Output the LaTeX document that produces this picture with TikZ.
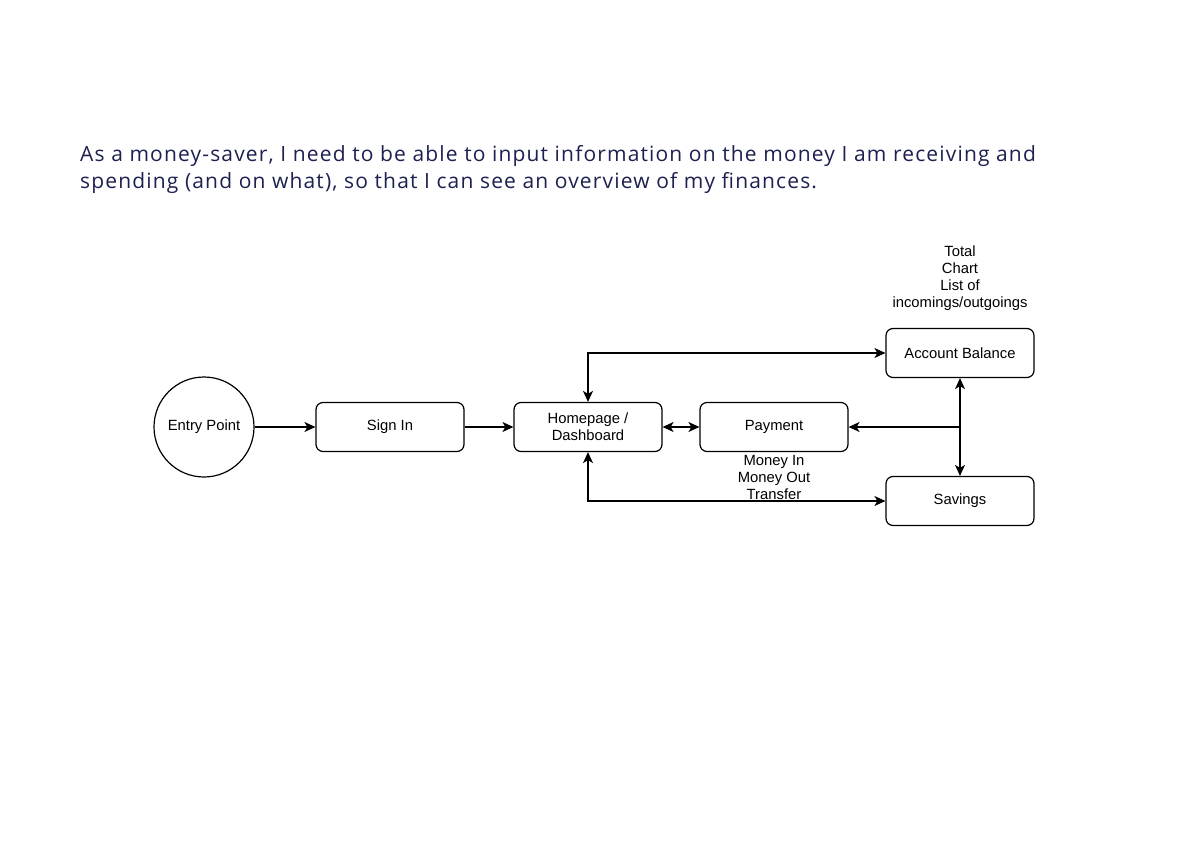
\documentclass[tikz,border=0pt]{standalone}
\usepackage{fontspec}
\setmainfont{Liberation Sans}
\newfontfamily\titlefont[LetterSpace=5.5]{Open Sans}
\usetikzlibrary{arrows.meta}
\definecolor{titleblue}{HTML}{1C2150}
\begin{document}
\begin{tikzpicture}[x=1pt,y=-1pt,
  every node/.style={font=\fontsize{14.8}{17}\selectfont},
  box/.style={draw,line width=1.2pt,rounded corners=7pt,minimum width=148pt,minimum height=49pt,align=center,inner sep=0pt},
  circ/.style={draw,line width=1.2pt,circle,minimum size=100pt,inner sep=0pt},
  lbl/.style={align=center,inner sep=0pt},
  conn/.style={line width=1.2pt,-{Stealth[length=11pt,width=10pt,inset=3pt]}},
  bconn/.style={line width=1.2pt,{Stealth[length=11pt,width=10pt,inset=3pt]}-{Stealth[length=11pt,width=10pt,inset=3pt]}}]
\useasboundingbox (0,0) rectangle (1200,848);
\fill[white] (0,0) rectangle (1200,848);
\node[anchor=base west,inner sep=0pt,text=titleblue,align=left,font=\titlefont\fontsize{21}{27}\selectfont] (title) at (80,189)
  {As a money-saver, I need to be able to input information on the money I am receiving and\\spending (and on what), so that I can see an overview of my finances.};
\node[circ] (entry) at (204,427) {\raisebox{-1.5pt}{Entry Point}};
\node[box] (signin) at (390,427) {\raisebox{-1.5pt}{Sign In}};
\node[box] (home) at (588,427) {Homepage /\\Dashboard};
\node[box] (pay) at (774,427) {\raisebox{-1.5pt}{Payment}};
\node[box] (acct) at (960,353) {\raisebox{-1.5pt}{Account Balance}};
\node[box] (sav) at (960,501) {\raisebox{-1.5pt}{Savings}};
\node[lbl] (acctlbl) at (960,278) {Total\\Chart\\List of\\incomings/outgoings};
\node[lbl] (paylbl) at (774,477) {Money In\\Money Out\\Transfer};
\coordinate (junc) at (960,427);
\draw[conn] (entry) -- (signin);
\draw[conn] (signin) -- (home);
\draw[bconn] (home) -- (pay);
\draw[bconn] (home.north) |- (acct.west);
\draw[bconn] (home.south) |- (sav.west);
\draw[bconn] (acct.south) -- (sav.north);
\draw[conn] (junc) -- (pay.east);
\end{tikzpicture}
\end{document}
